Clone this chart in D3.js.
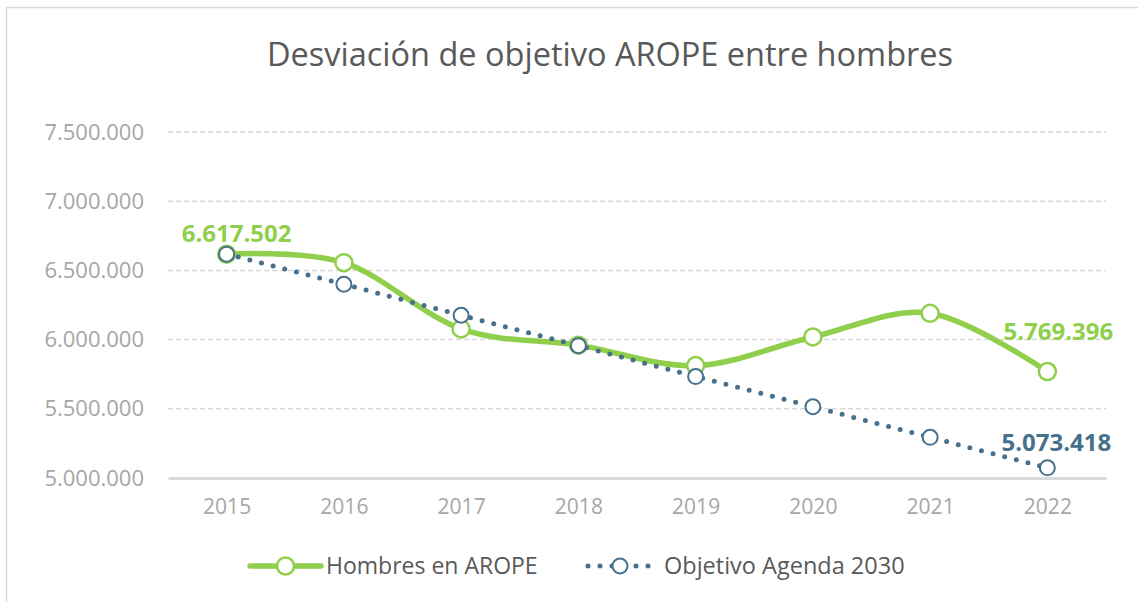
<!DOCTYPE html>
<html>
<head>
<meta charset="utf-8">
<script src="https://cdn.jsdelivr.net/npm/d3@7"></script>
<style>
  html, body { margin: 0; padding: 0; background: #fff; }
  svg { display: block; font-family: "Open Sans", sans-serif; }
</style>
</head>
<body>
<div id="chart"></div>
<script>
// Chart data
const years = ["2015", "2016", "2017", "2018", "2019", "2020", "2021", "2022"];
const hombresArope = [6617502, 6556000, 6077000, 5960000, 5812000, 6019000, 6190000, 5769396];
const objetivo2030 = [6617502, 6400000, 6176000, 5956000, 5733000, 5515000, 5294000, 5073418];
const yTicks = [5000000, 5500000, 6000000, 6500000, 7000000, 7500000];
const seriesNames = ["Hombres en AROPE", "Objetivo Agenda 2030"];

const W = 1138, H = 602;
const margin = {top: 132, right: 32, bottom: 124, left: 168};
const width = W - margin.left - margin.right,
      height = H - margin.top - margin.bottom;

const green = "#8fcf4c", blue = "#46708c", gridGrey = "#d9d9d9", textGrey = "#595959", tickGrey = "#a6a6a6";

const fmt = v => d3.format(",")(v).replace(/,/g, ".");

const svg = d3.select("#chart").append("svg")
  .attr("width", W)
  .attr("height", H);

// Chart area border (top and left edges visible)
svg.append("line").attr("x1", 6).attr("x2", W).attr("y1", 7.5).attr("y2", 7.5)
  .attr("stroke", gridGrey).attr("stroke-width", 1.5);
svg.append("line").attr("x1", 6.5).attr("x2", 6.5).attr("y1", 7).attr("y2", H)
  .attr("stroke", gridGrey).attr("stroke-width", 1.5);

// Title
svg.append("text")
  .attr("x", 610)
  .attr("y", 66)
  .attr("text-anchor", "middle")
  .style("font-size", "32.5px")
  .style("fill", textGrey)
  .text("Desviación de objetivo AROPE entre hombres");

const g = svg.append("g")
  .attr("transform", `translate(${margin.left},${margin.top})`);

// Scales
const x = d3.scalePoint()
  .domain(years)
  .range([0, width])
  .padding(0.5);

const y = d3.scaleLinear()
  .domain([5000000, 7500000])
  .range([height, 0]);

// Gridlines
g.append("g")
  .selectAll("line")
  .data(yTicks.slice(1))
  .enter().append("line")
    .attr("x1", 0)
    .attr("x2", width)
    .attr("y1", d => y(d))
    .attr("y2", d => y(d))
    .attr("stroke", gridGrey)
    .attr("stroke-width", 1.5)
    .attr("stroke-dasharray", "5,3");

// Y axis
const yAxis = g.append("g")
  .call(d3.axisLeft(y).tickValues(yTicks).tickFormat(fmt).tickSize(0).tickPadding(24));
yAxis.select(".domain").remove();
yAxis.selectAll("text")
  .style("font-size", "22px")
  .style("font-family", "'Open Sans', sans-serif")
  .style("fill", tickGrey);

// X axis
const xAxis = g.append("g")
  .attr("transform", `translate(0,${height})`)
  .call(d3.axisBottom(x).tickSize(0).tickPadding(21));
xAxis.select(".domain")
  .attr("stroke", gridGrey)
  .attr("stroke-width", 3);
xAxis.selectAll("text")
  .style("font-size", "21px")
  .style("font-family", "'Open Sans', sans-serif")
  .style("fill", tickGrey);

// Lines
const smoothLine = d3.line()
  .x((d, i) => x(years[i]))
  .y(d => y(d))
  .curve(d3.curveCardinal.tension(0));

const straightLine = d3.line()
  .x((d, i) => x(years[i]))
  .y(d => y(d));

g.append("path")
  .datum(hombresArope)
  .attr("fill", "none")
  .attr("stroke", green)
  .attr("stroke-width", 5.5)
  .attr("stroke-linejoin", "round")
  .attr("d", smoothLine);

g.selectAll(".greenMarker")
  .data(hombresArope)
  .enter().append("circle")
    .attr("class", "greenMarker")
    .attr("cx", (d, i) => x(years[i]))
    .attr("cy", d => y(d))
    .attr("r", 8.5)
    .attr("fill", "#fff")
    .attr("stroke", green)
    .attr("stroke-width", 2.5);

g.append("path")
  .datum(objetivo2030)
  .attr("fill", "none")
  .attr("stroke", blue)
  .attr("stroke-width", 5)
  .attr("stroke-linecap", "round")
  .attr("stroke-dasharray", "0,12")
  .attr("d", straightLine);

g.selectAll(".blueMarker")
  .data(objetivo2030)
  .enter().append("circle")
    .attr("class", "blueMarker")
    .attr("cx", (d, i) => x(years[i]))
    .attr("cy", d => y(d))
    .attr("r", 7.5)
    .attr("fill", "#fff")
    .attr("stroke", blue)
    .attr("stroke-width", 2);

// Data labels (first and last values)
const last = years.length - 1;
g.append("text")
  .attr("x", x(years[0]) + 10)
  .attr("y", y(hombresArope[0]) - 12)
  .attr("text-anchor", "middle")
  .style("font-size", "24px")
  .style("font-weight", "bold")
  .style("fill", green)
  .text(fmt(hombresArope[0]));

g.append("text")
  .attr("x", x(years[last]) + 11)
  .attr("y", y(hombresArope[last]) - 32)
  .attr("text-anchor", "middle")
  .style("font-size", "24px")
  .style("font-weight", "bold")
  .style("fill", green)
  .text(fmt(hombresArope[last]));

g.append("text")
  .attr("x", x(years[last]) + 9)
  .attr("y", y(objetivo2030[last]) - 17)
  .attr("text-anchor", "middle")
  .style("font-size", "24px")
  .style("font-weight", "bold")
  .style("fill", blue)
  .text(fmt(objetivo2030[last]));

// Legend
const legend = svg.append("g").attr("transform", "translate(0,566)");

legend.append("line")
  .attr("x1", 250).attr("x2", 321).attr("y1", 0).attr("y2", 0)
  .attr("stroke", green).attr("stroke-width", 5.5).attr("stroke-linecap", "round");
legend.append("circle")
  .attr("cx", 285.5).attr("cy", 0).attr("r", 8.5)
  .attr("fill", "#fff").attr("stroke", green).attr("stroke-width", 2.5);
legend.append("text")
  .attr("x", 326).attr("y", 0).attr("dy", "0.35em")
  .style("font-size", "23px").style("fill", textGrey)
  .text(seriesNames[0]);

legend.append("line")
  .attr("x1", 588).attr("x2", 652).attr("y1", 0).attr("y2", 0)
  .attr("stroke", blue).attr("stroke-width", 5).attr("stroke-linecap", "round")
  .attr("stroke-dasharray", "0,12");
legend.append("circle")
  .attr("cx", 620).attr("cy", 0).attr("r", 7.5)
  .attr("fill", "#fff").attr("stroke", blue).attr("stroke-width", 2);
legend.append("text")
  .attr("x", 664).attr("y", 0).attr("dy", "0.35em")
  .style("font-size", "23.5px").style("fill", textGrey)
  .text(seriesNames[1]);
</script>
</body>
</html>
